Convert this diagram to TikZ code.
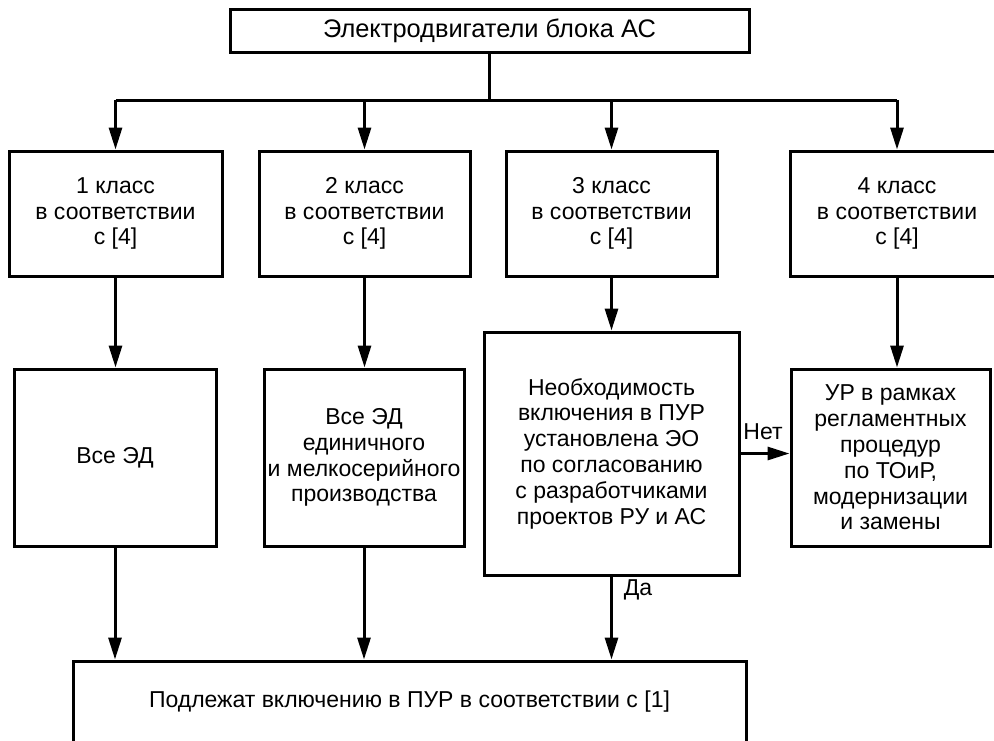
\documentclass[tikz,border=0pt]{standalone}
\usepackage{fontspec}
\setmainfont{Liberation Sans}
\usetikzlibrary{arrows.meta, positioning}

\begin{document}
\begin{tikzpicture}[x=0.5pt,y=-0.5pt]
        \useasboundingbox (0,0) rectangle (994,740);
        \clip (0,0) rectangle (994,740);
        \begin{scope}[every node/.style={draw,line width=1.5pt,align=center,inner sep=0pt,font=\fontsize{11.5}{12.9}\selectfont}]
          \node[minimum width=259.5pt,minimum height=21.5pt,font=\fontsize{12.7}{14}\selectfont] (e) at (489.5,30.5) {Электродвигатели блока АС};
          \node[minimum width=106.5pt,minimum height=62.5pt] (c1) at (115.5,213.5) {1 класс\\в соответствии\\с [4]};
          \node[minimum width=105.5pt,minimum height=62.5pt] (c2) at (364.5,213.5) {2 класс\\в соответствии\\с [4]};
          \node[minimum width=105.5pt,minimum height=62.5pt] (c3) at (611.5,213.5) {3 класс\\в соответствии\\с [4]};
          \node[minimum width=107pt,minimum height=62.5pt] (c4) at (897,213.5) {4 класс\\в соответствии\\с [4]};
          \node[minimum width=101pt,minimum height=88.5pt] (r1) at (115,457.5) {Все ЭД};
          \node[minimum width=100pt,minimum height=88.5pt] (r2) at (364,457.5) {Все ЭД\\единичного\\и мелкосерийного\\производства};
          \node[minimum width=127.5pt,minimum height=121.5pt] (r3) at (611.5,453.5) {Необходимость\\включения в ПУР\\установлена ЭО\\по согласованию\\с разработчиками\\проектов РУ и АС};
          \node[minimum width=99.5pt,minimum height=88.5pt] (r4) at (890.5,457.5) {УР в рамках\\регламентных\\процедур\\по ТОиР,\\модернизации\\и замены};
          \node[minimum width=336.5pt,minimum height=41pt] (pur) at (409.5,702) {Подлежат включению в ПУР в соответствии с [1]};
        \end{scope}
        \begin{scope}[every node/.style={inner sep=0pt,font=\fontsize{11.5}{12.9}\selectfont}]
          \node (no) at (763,432) {Нет};
          \node (yes) at (638,590) {Да};
        \end{scope}
        \coordinate (j) at (489.5,100);
        \coordinate (b1) at (c1 |- j);
        \coordinate (b2) at (c2 |- j);
        \coordinate (b3) at (c3 |- j);
        \coordinate (b4) at (c4 |- j);
        \begin{scope}[every edge/.style={draw=black,line width=1.5pt,-{Triangle[length=11pt,width=6.5pt]}}]
          \path (e) edge[-] (j);
          \path (b1) edge[-] (b4);
          \path (b1) edge (c1);
          \path (b2) edge (c2);
          \path (b3) edge (c3);
          \path (b4) edge (c4);
          \path (c1) edge (c1 |- r1.north);
          \path (c2) edge (c2 |- r2.north);
          \path (c3) edge (c3 |- r3.north);
          \path (c4) edge (c4 |- r4.north);
          \path (r3.east) edge (r3.east -| r4.west);
          \path (r1) edge (r1 |- pur.north);
          \path (r2) edge (r2 |- pur.north);
          \path (r3) edge (r3 |- pur.north);
        \end{scope}
      \end{tikzpicture}
\end{document}
